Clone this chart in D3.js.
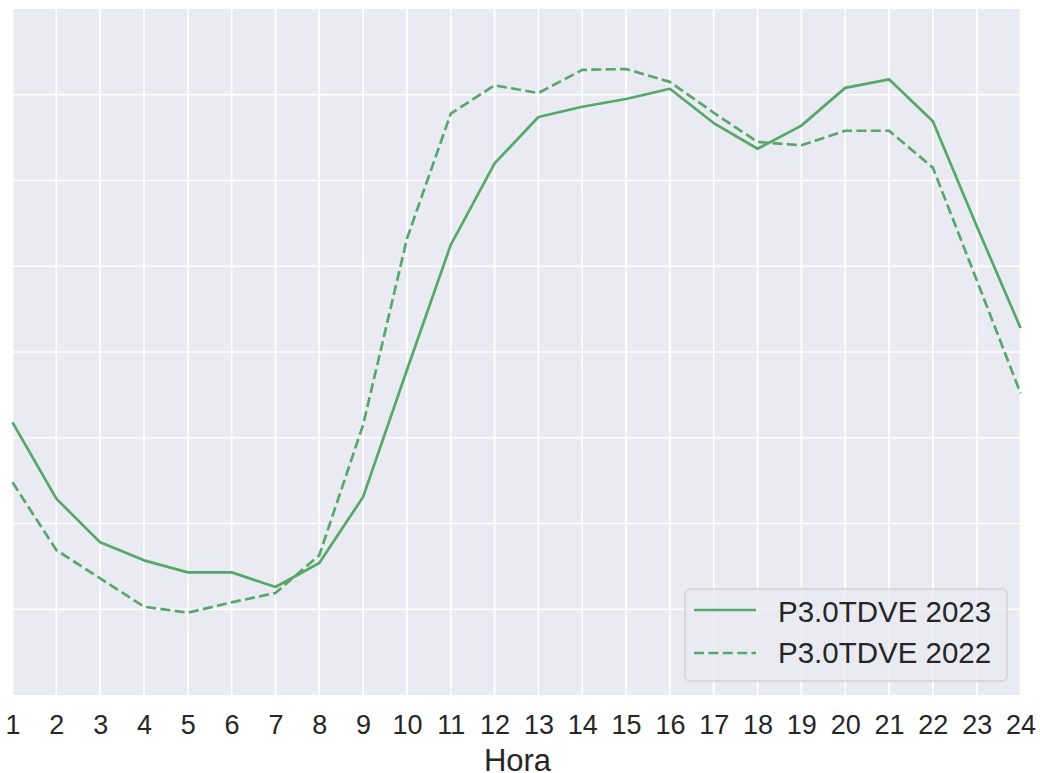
<!DOCTYPE html>
<html>
<head>
<meta charset="utf-8">
<script src="https://cdn.jsdelivr.net/npm/d3@7"></script>
<style>
  html, body { margin: 0; padding: 0; background: #ffffff; }
  svg { display: block; }
  text { font-family: "Liberation Sans", Arial, sans-serif; fill: #262626; }
</style>
</head>
<body>
<svg id="chart" width="1040" height="773"></svg>
<script>
// Hours (x categories)
const hours = [1,2,3,4,5,6,7,8,9,10,11,12,13,14,15,16,17,18,19,20,21,22,23,24];
// Series values (relative units; original y-axis has no labels)
const p2023 = [3.18,2.29,1.78,1.57,1.43,1.43,1.26,1.54,2.31,3.79,5.25,6.20,6.74,6.86,6.95,7.07,6.67,6.37,6.64,7.08,7.18,6.69,5.47,4.28];
const p2022 = [2.48,1.69,1.36,1.03,0.96,1.08,1.19,1.63,3.15,5.32,6.78,7.11,7.02,7.29,7.30,7.15,6.79,6.45,6.41,6.58,6.58,6.15,4.84,3.52];
const seriesNames = ["P3.0TDVE 2023", "P3.0TDVE 2022"];
const yGridValues = [1,2,3,4,5,6,7];
const xLabel = "Hora";

(function () {
const svg = d3.select("#chart");
const mLeft = 12.5, mRight = 1020.5, mTop = 9, mBottom = 695;
const green = "#55a868";

const x = d3.scaleLinear().domain([1, 24]).range([mLeft, mRight]);
const y = d3.scaleLinear().domain([0, 8]).range([mBottom, mTop]);

// background
svg.append("rect").attr("x", mLeft).attr("y", mTop)
  .attr("width", mRight - mLeft).attr("height", mBottom - mTop).attr("fill", "#eaeaf2");

// grid
const grid = svg.append("g");
grid.selectAll("line.v").data(hours).join("line").attr("class", "v")
  .attr("x1", d => x(d)).attr("x2", d => x(d)).attr("y1", mTop).attr("y2", mBottom)
  .attr("stroke", "#ffffff").attr("stroke-width", 1.7);
grid.selectAll("line.h").data(yGridValues).join("line").attr("class", "h")
  .attr("x1", mLeft).attr("x2", mRight).attr("y1", d => y(d)).attr("y2", d => y(d))
  .attr("stroke", "#ffffff").attr("stroke-width", 1.7);

// lines
const line = d3.line().x((d, i) => x(hours[i])).y(d => y(d));
svg.append("path").datum(p2023).attr("d", line)
  .attr("fill", "none").attr("stroke", green).attr("stroke-width", 2.7)
  .attr("stroke-linejoin", "round").attr("stroke-linecap", "butt");
svg.append("path").datum(p2022).attr("d", line)
  .attr("fill", "none").attr("stroke", green).attr("stroke-width", 2.7)
  .attr("stroke-dasharray", "10,4.4").attr("stroke-linejoin", "round");

// x axis (no domain, no ticks)
const xAxis = d3.axisBottom(x).tickValues(hours).tickFormat(d3.format("d")).tickSize(0).tickPadding(20);
const gx = svg.append("g").attr("transform", `translate(0,${mBottom})`).call(xAxis);
gx.select(".domain").remove();
gx.selectAll("text").attr("font-size", 27).attr("fill", "#262626")
  .attr("font-family", "'Liberation Sans', Arial, sans-serif");

svg.append("text").attr("x", (mLeft + mRight) / 2 + 1).attr("y", 770.5)
  .attr("text-anchor", "middle").attr("font-size", 31).text(xLabel);

// legend
const lg = svg.append("g");
lg.append("rect").attr("x", 685).attr("y", 589).attr("width", 322).attr("height", 92)
  .attr("rx", 5).attr("fill", "#eaeaf2").attr("fill-opacity", 0.8)
  .attr("stroke", "#cccccc").attr("stroke-opacity", 0.8).attr("stroke-width", 1.3);
const dashes = [null, "10,4.4"];
const rows = [610, 653];
const baselines = [622, 663];
seriesNames.forEach((name, i) => {
  lg.append("line").attr("x1", 694).attr("x2", 756).attr("y1", rows[i]).attr("y2", rows[i])
    .attr("stroke", green).attr("stroke-width", 2.7)
    .attr("stroke-dasharray", dashes[i]);
  lg.append("text").attr("x", 778).attr("y", baselines[i]).attr("font-size", 29.5).text(name);
});
})();
</script>
</body>
</html>
